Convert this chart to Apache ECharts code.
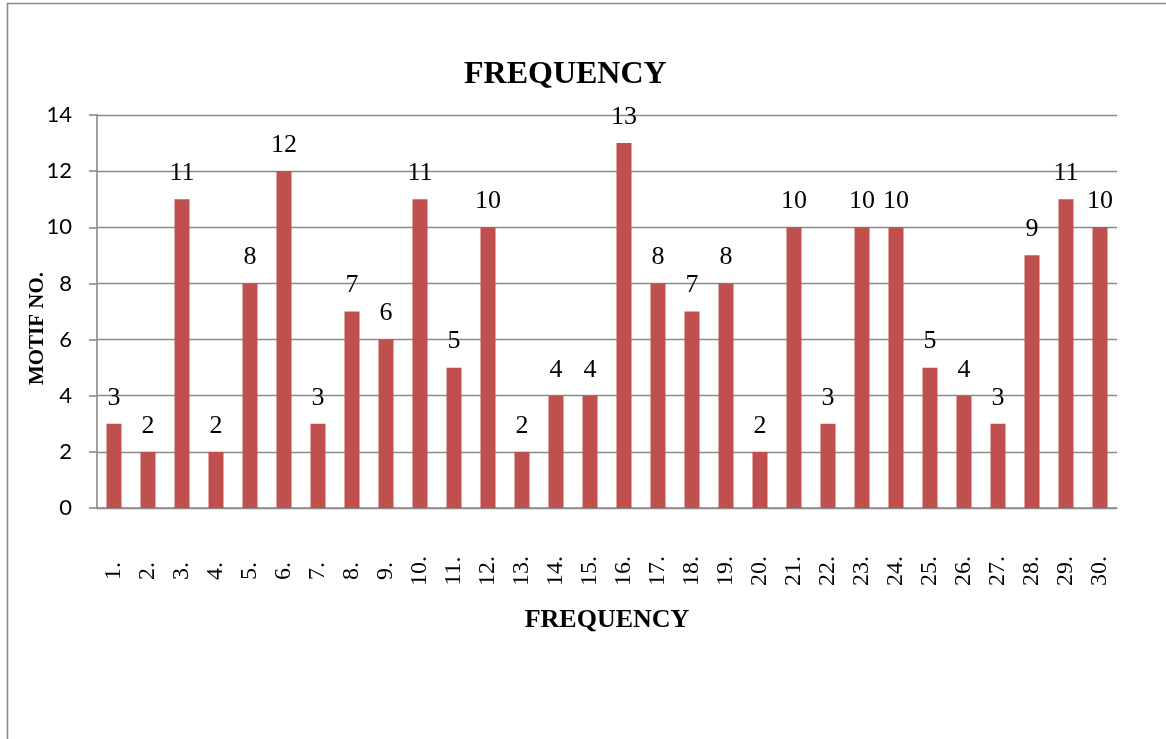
<!DOCTYPE html>
<html>
<head>
<meta charset="utf-8">
<script src="https://cdn.jsdelivr.net/npm/echarts@6/dist/echarts.min.js"></script>
<style>
html,body{margin:0;padding:0;background:#fff;}
#chart{width:1166px;height:739px;}
</style>
</head>
<body>
<div id="chart"></div>
<script>
const categories = ['1.','2.','3.','4.','5.','6.','7.','8.','9.','10.','11.','12.','13.','14.','15.','16.','17.','18.','19.','20.','21.','22.','23.','24.','25.','26.','27.','28.','29.','30.'];
const motifCounts = [3,2,11,2,8,12,3,7,6,11,5,10,2,4,4,13,8,7,8,2,10,3,10,10,5,4,3,9,11,10];
const yTicks = {min: 0, max: 14, interval: 2};
const titleText = 'FREQUENCY';
const xAxisName = 'FREQUENCY';
const yAxisName = 'MOTIF NO.';

const serif = '"Liberation Serif", "Times New Roman", serif';
const chart = echarts.init(document.getElementById('chart'), null, {renderer: 'canvas'});
chart.setOption({
  animation: false,
  backgroundColor: '#fff',
  graphic: [{
    type: 'rect',
    shape: {x: 7.5, y: 3.5, width: 1300, height: 900},
    style: {fill: 'none', stroke: '#8a8a8a', lineWidth: 1.6},
    silent: true
  }],
  title: {
    text: titleText,
    left: 459,
    top: 54,
    textStyle: {fontFamily: serif, fontWeight: 'bold', fontSize: 32, color: '#000'}
  },
  grid: {left: 97, right: 49, top: 115, bottom: 231, containLabel: false},
  xAxis: {
    type: 'category',
    data: categories,
    name: xAxisName,
    nameLocation: 'middle',
    nameGap: 99,
    nameMoveOverlap: false,
    nameTextStyle: {fontFamily: serif, fontWeight: 'bold', fontSize: 26, color: '#000'},
    axisLine: {show: true, lineStyle: {color: '#8a8a8a', width: 1.6}},
    axisTick: {show: false},
    axisLabel: {
      rotate: 90,
      align: 'center',
      margin: 63,
      interval: 0,
      fontFamily: serif,
      fontSize: 24,
      color: '#000'
    },
    splitLine: {show: false}
  },
  yAxis: {
    type: 'value',
    min: yTicks.min,
    max: yTicks.max,
    interval: yTicks.interval,
    name: yAxisName,
    nameLocation: 'middle',
    nameRotate: 90,
    nameGap: 49,
    nameMoveOverlap: false,
    nameTextStyle: {fontFamily: serif, fontWeight: 'bold', fontSize: 21, color: '#000', padding: [0, 34, 0, 0]},
    axisLine: {show: true, lineStyle: {color: '#8a8a8a', width: 1.6}},
    axisTick: {show: true, length: 8, lineStyle: {color: '#8a8a8a', width: 1.6}},
    axisLabel: {margin: 25, fontFamily: 'Lato, "Open Sans", sans-serif', fontSize: 22, color: '#000'},
    splitLine: {show: true, lineStyle: {color: '#8a8a8a', width: 1.4}}
  },
  series: [{
    type: 'bar',
    data: motifCounts,
    barWidth: 15,
    itemStyle: {color: '#C0504D'},
    label: {
      show: true,
      position: 'top',
      distance: 13,
      fontFamily: serif,
      fontSize: 26,
      color: '#000'
    }
  }]
});
</script>
</body>
</html>
